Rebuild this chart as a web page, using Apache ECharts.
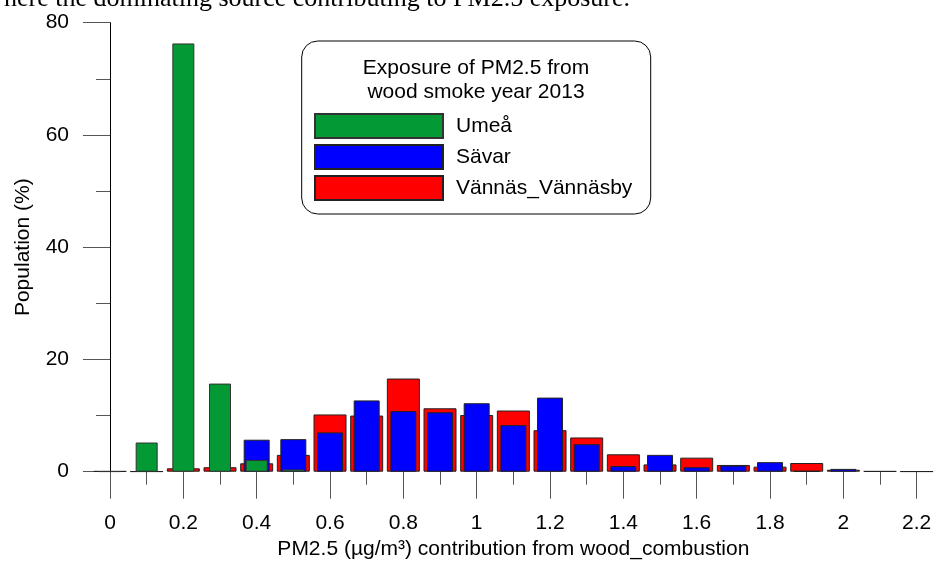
<!DOCTYPE html>
<html><head><meta charset="utf-8">
<script src="https://cdn.jsdelivr.net/npm/echarts@6/dist/echarts.min.js"></script>
<style>html,body{margin:0;padding:0;background:#fff}#c{width:935px;height:562px}</style>
</head><body><div id="c"></div>
<script>
// bin centres (µg/m³)
const xValues = [0,0.1,0.2,0.3,0.4,0.5,0.6,0.7,0.8,0.9,1.0,1.1,1.2,1.3,1.4,1.5,1.6,1.7,1.8,1.9,2.0,2.1,2.2];
// population share (%) per bin
const umea   = [0.05,5.2,76.3,15.7,2.1,0.4,null,null,null,null,null,null,null,null,null,null,null,null,null,null,null,null,null];
const savar  = [null,null,null,null,5.7,5.8,7.0,12.7,10.8,10.6,12.2,8.3,13.2,4.9,1.0,3.0,0.8,1.1,1.7,0.1,0.5,null,null];
const vannas = [0.1,0.05,0.6,0.8,1.5,3.0,10.2,10.0,16.6,11.3,10.1,10.9,7.4,6.1,3.1,1.3,2.5,1.2,0.9,1.55,0.35,0.1,0.05];
const seriesNames = ['Umeå','Sävar','Vännäs_Vännäsby'];
const yTicks = {min:0,max:80,interval:20};
const xTicks = {min:0,max:2.2,interval:0.2};

const FONT = '"Liberation Sans", Arial, sans-serif';
const pairs = arr => xValues.map((x,i)=>[x, arr[i]]).filter(p=>p[1]!=null);

const chart = echarts.init(document.getElementById('c'), null, {renderer:'canvas'});
const hiddenX = {type:'value', min:xTicks.min, max:xTicks.max, show:false};
const option = {
  animation:false,
  backgroundColor:'#fff',
  textStyle:{fontFamily:FONT},
  grid:{left:110, right:18.3, top:22.7, bottom:90.3, containLabel:false, outerBoundsMode:'none'},
  xAxis:[{
    type:'value', min:xTicks.min, max:xTicks.max, interval:xTicks.interval,
    name:'PM2.5 (µg/m³) contribution from wood_combustion',
    nameLocation:'middle', nameGap:65,
    nameTextStyle:{fontSize:21, color:'#000', fontFamily:FONT},
    axisLine:{show:false},
    axisTick:{show:true, inside:false, length:27, lineStyle:{color:'#555', width:1}},
    minorTick:{show:true, splitNumber:2, length:13, lineStyle:{color:'#555', width:1}},
    splitLine:{show:false}, minorSplitLine:{show:false},
    axisLabel:{fontSize:21, color:'#000', margin:41, fontFamily:FONT, showMinLabel:true, showMaxLabel:true}
  }, Object.assign({}, hiddenX), Object.assign({}, hiddenX)],
  yAxis:{
    type:'value', min:yTicks.min, max:yTicks.max, interval:yTicks.interval,
    name:'Population (%)', nameLocation:'middle', nameGap:76, nameRotate:90,
    nameTextStyle:{fontSize:21, color:'#000', fontFamily:FONT},
    axisLine:{show:true, lineStyle:{color:'#000', width:1}},
    axisTick:{show:true, inside:false, length:27, lineStyle:{color:'#555', width:1}},
    minorTick:{show:true, splitNumber:2, length:14, lineStyle:{color:'#555', width:1}},
    splitLine:{show:false}, minorSplitLine:{show:false},
    axisLabel:{fontSize:21, color:'#000', margin:41, fontFamily:FONT}
  },
  legend:{
    orient:'vertical', left:314, top:113, padding:0, itemWidth:128, itemHeight:24, itemGap:5,
    icon:'rect', data:seriesNames, selectedMode:false,
    textStyle:{fontSize:21, color:'#000', fontFamily:FONT, padding:[0,0,0,8], lineHeight:24}
  },
  graphic:[
    {type:'text', x:630, y:-1, z:10, style:{text:'here the dominating source contributing to PM2.5 exposure.', font:'26px "Liberation Serif", "Times New Roman", serif', fill:'#000', align:'right', verticalAlign:'middle', textAlign:'right', textVerticalAlign:'middle'}},
    {type:'rect', z:-1, shape:{x:301.7, y:41, width:349, height:173, r:16}, style:{fill:'#fff', stroke:'#000', lineWidth:1}},
    {type:'text', x:476, y:68, z:10, style:{text:'Exposure of PM2.5 from', font:'21px "Liberation Sans", Arial, sans-serif', fill:'#000', align:'center', verticalAlign:'middle', textAlign:'center', textVerticalAlign:'middle'}},
    {type:'text', x:476, y:92, z:10, style:{text:'wood smoke year 2013', font:'21px "Liberation Sans", Arial, sans-serif', fill:'#000', align:'center', verticalAlign:'middle', textAlign:'center', textVerticalAlign:'middle'}}
  ],
  series:[
    {name:seriesNames[2], type:'bar', xAxisIndex:0, barWidth:33, data:pairs(vannas), z:2,
     itemStyle:{color:'#FF0000', borderColor:'#222', borderWidth:1}},
    {name:seriesNames[1], type:'bar', xAxisIndex:1, barWidth:26, data:pairs(savar), z:3,
     itemStyle:{color:'#0000FF', borderColor:'#222', borderWidth:1}},
    {name:seriesNames[0], type:'bar', xAxisIndex:2, barWidth:22, data:pairs(umea), z:4,
     itemStyle:{color:'#039A35', borderColor:'#333', borderWidth:1}}
  ]
};
chart.setOption(option);
</script></body></html>
